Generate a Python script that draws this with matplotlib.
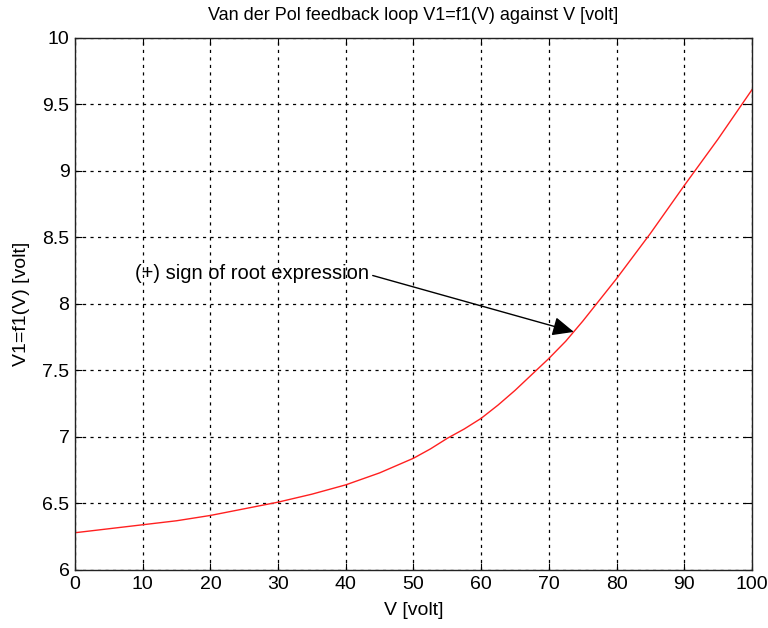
import matplotlib.pyplot as plt
from matplotlib import font_manager

# values
v = [0, 5, 10, 15, 20, 25, 30, 35, 40, 45, 50, 52.5, 55, 57.5, 60, 62.5, 65, 67.5,
     70, 72.5, 75, 77.5, 80, 85, 90, 95, 100]
v1 = [6.28, 6.31, 6.34, 6.37, 6.41, 6.46, 6.51, 6.57, 6.64, 6.73, 6.84, 6.91, 6.99,
      7.06, 7.14, 7.24, 7.35, 7.47, 7.59, 7.72, 7.87, 8.03, 8.19, 8.53, 8.89, 9.24, 9.61]

xticks = list(range(0, 101, 10))
yticks = [6, 6.5, 7, 7.5, 8, 8.5, 9, 9.5, 10]
ytick_labels = ['6', '6.5', '7', '7.5', '8', '8.5', '9', '9.5', '10']

names = {f.name for f in font_manager.fontManager.ttflist}
if 'Liberation Sans Narrow' in names:
    plt.rcParams['font.family'] = ['Liberation Sans Narrow', 'DejaVu Sans']
else:
    plt.rcParams['font.family'] = ['Liberation Sans', 'DejaVu Sans']

fig = plt.figure(figsize=(7.68, 6.28), dpi=100)
ax = fig.add_axes([0.0977, 0.0924, 0.8813, 0.8471])

ax.plot(v, v1, color='#ff2020', linewidth=1.0)

ax.set_xlim(0, 100)
ax.set_ylim(6, 10)
ax.set_xticks(xticks)
ax.set_yticks(yticks)
ax.set_yticklabels(ytick_labels)
ax.tick_params(direction='in', length=5, top=True, right=True, labelsize=14, pad=4)
ax.grid(True, color='black', linestyle=(0, (2.5, 3.5)), linewidth=0.9)
for s in ax.spines.values():
    s.set_linewidth(1.0)
    s.set_color('#222222')

ax.set_title('Van der Pol feedback loop V1=f1(V) against V [volt]', fontsize=13, pad=13)
ax.set_xlabel('V [volt]', fontsize=14, labelpad=7)
ax.set_ylabel('V1=f1(V) [volt]', fontsize=14, labelpad=9)

ax.annotate('(+) sign of root expression', xy=(73.7, 7.79), xytext=(8.8, 8.23),
            fontsize=14.5, va='center', ha='left',
            arrowprops=dict(arrowstyle='-|>,head_length=0.9,head_width=0.4',
                            color='black', lw=1.0, relpos=(1.0, 0.45),
                            shrinkA=1, shrinkB=0))

fig.savefig('out.png', dpi=100)
